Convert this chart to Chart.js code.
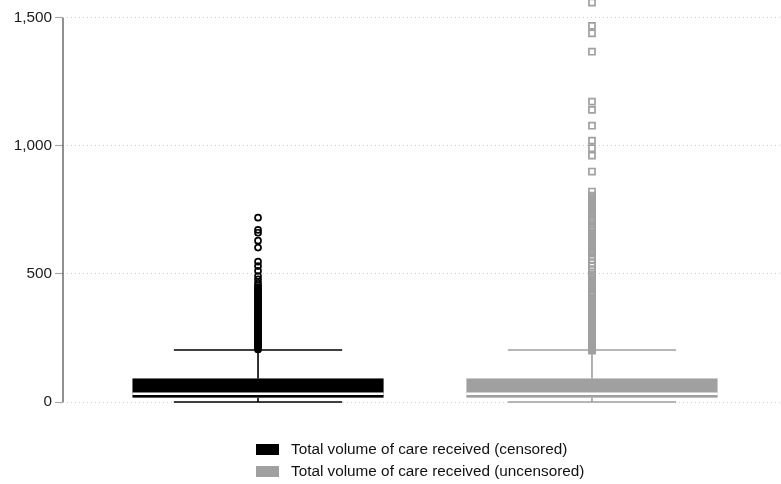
<!DOCTYPE html>
<html>
<head>
<meta charset="utf-8">
<script src="https://cdn.jsdelivr.net/npm/chart.js@4.4.1/dist/chart.umd.min.js"></script>
<style>
    html, body { margin: 0; padding: 0; background: #fff; overflow: hidden; }
    #wrap { position: relative; width: 781px; height: 484px; }
    #boxChart { display: block; }
    #legend { position: absolute; left: 256px; top: 438px; font-family: 'Liberation Sans', Arial, sans-serif; font-size: 15.3px; color: #111; }
    .row { display: flex; align-items: center; height: 22px; }
    .swatch { width: 23px; height: 11px; margin-right: 12px; }
</style>
</head>
<body>
<div id="wrap">
    <canvas id="boxChart"></canvas>
    <div id="legend"></div>
</div>
<script>
// Series names and colours
const categories = ['Total volume of care received (censored)', 'Total volume of care received (uncensored)'];
const colors = ['#000000', '#a0a0a0'];

// Box statistics, one value per series
const lowerWhisker = [0, 0];
const quartile1 = [17, 17];
const medians = [32, 32];
const quartile3 = [92, 92];
const upperWhisker = [203, 203];

// Outside values
const outliersCensored = [
    205, 208, 213, 216, 221, 225, 230, 233, 238, 243, 247, 252, 255, 260, 266, 270, 274, 279,
    285, 289, 293, 298, 304, 308, 312, 318, 323, 327, 331, 337, 342, 347, 352, 356, 362, 368,
    372, 377, 383, 388, 392, 398, 404, 409, 414, 419, 425, 431, 436, 442, 449, 456, 465, 479,
    492, 512, 531, 548, 603, 630, 661, 672, 720
];
const outliersUncensored = [
    201, 204, 209, 215, 219, 224, 230, 234, 239, 245, 249, 254, 260, 264, 268, 275, 279, 284,
    290, 294, 299, 305, 309, 313, 319, 324, 330, 334, 338, 344, 349, 355, 359, 364, 370, 374,
    379, 385, 389, 394, 400, 404, 409, 415, 419, 431, 442, 447, 453, 458, 462, 468, 474, 480,
    485, 492, 498, 516, 530, 543, 556, 570, 584, 589, 596, 602, 607, 614, 620, 625, 632, 638,
    643, 650, 656, 661, 668, 674, 680, 695, 708, 713, 720, 727, 732, 737, 744, 750, 755, 762,
    768, 773, 780, 786, 792, 799, 806, 822, 900, 962, 991, 1021, 1079, 1141, 1173, 1368,
    1440, 1469, 1560
];

// y axis ticks
const yTicks = [0, 500, 1000, 1500];

const boxHalfWidth = 0.376;
const capHalfWidth = 0.252;

// Draws the y axis line, boxes, medians and whiskers on the chart's own scales
const boxPlotPlugin = {
    id: 'boxPlot',
    beforeDatasetsDraw(chart) {
        const { ctx, scales: { x, y } } = chart;
        ctx.save();

        // axis line only spans the labelled range
        ctx.strokeStyle = '#555555';
        ctx.lineWidth = 1.3;
        ctx.beginPath();
        ctx.moveTo(chart.chartArea.left, y.getPixelForValue(yTicks[0]));
        ctx.lineTo(chart.chartArea.left, y.getPixelForValue(yTicks[yTicks.length - 1]));
        ctx.stroke();

        categories.forEach((cat, i) => {
            const cx = x.getPixelForValue(i);
            const bl = x.getPixelForValue(i - boxHalfWidth);
            const br = x.getPixelForValue(i + boxHalfWidth);
            const cl = x.getPixelForValue(i - capHalfWidth);
            const cr = x.getPixelForValue(i + capHalfWidth);
            const yq1 = y.getPixelForValue(quartile1[i]);
            const yq3 = y.getPixelForValue(quartile3[i]);
            const ymed = y.getPixelForValue(medians[i]);
            const ylo = y.getPixelForValue(lowerWhisker[i]);
            const yhi = y.getPixelForValue(upperWhisker[i]);

            ctx.strokeStyle = colors[i];
            ctx.lineWidth = 1.6;
            ctx.beginPath();
            // whisker stems
            ctx.moveTo(cx, yq3); ctx.lineTo(cx, yhi);
            ctx.moveTo(cx, yq1); ctx.lineTo(cx, ylo);
            // caps
            ctx.moveTo(cl, yhi); ctx.lineTo(cr, yhi);
            ctx.moveTo(cl, ylo); ctx.lineTo(cr, ylo);
            ctx.stroke();

            // box
            ctx.fillStyle = colors[i];
            ctx.fillRect(bl, yq3, br - bl, yq1 - yq3);

            // median
            ctx.strokeStyle = '#ffffff';
            ctx.lineWidth = 2.6;
            ctx.beginPath();
            ctx.moveTo(bl, ymed); ctx.lineTo(br, ymed);
            ctx.stroke();
        });
        ctx.restore();
    }
};

const ctx = document.getElementById('boxChart').getContext('2d');
const boxChart = new Chart(ctx, {
    type: 'scatter',
    data: {
        datasets: [
            {
                label: categories[0],
                data: outliersCensored.map(v => ({ x: 0, y: v })),
                pointStyle: 'circle',
                pointRadius: 3,
                borderWidth: 1.7,
                borderColor: colors[0],
                backgroundColor: 'rgba(0,0,0,0)',
                clip: false
            },
            {
                label: categories[1],
                data: outliersUncensored.map(v => ({ x: 1, y: v })),
                pointStyle: 'rect',
                pointRadius: 4.3,
                borderWidth: 1.7,
                borderColor: colors[1],
                backgroundColor: 'rgba(0,0,0,0)',
                clip: false
            }
        ]
    },
    options: {
        responsive: true,
        maintainAspectRatio: false,
        animation: false,
        events: [],
        layout: {
            autoPadding: false,
            padding: { top: 0, bottom: 82, left: 0, right: 0 }
        },
        scales: {
            x: {
                type: 'linear',
                display: false,
                min: -0.584,
                max: 1.566
            },
            y: {
                min: 0,
                max: 1570,
                afterFit: scale => {
                    scale.width = 63;
                    scale.paddingTop = 0;
                    scale.paddingBottom = 0;
                },
                afterBuildTicks: scale => { scale.ticks = yTicks.map(v => ({ value: v })); },
                ticks: {
                    padding: 3,
                    color: '#1a1a1a',
                    font: { family: 'Liberation Sans', size: 15.3 },
                    callback: v => v.toLocaleString('en-US')
                },
                grid: {
                    color: '#cfcfcf',
                    lineWidth: 1,
                    tickLength: 8,
                    tickColor: '#a8a8a8',
                    tickWidth: 1.2
                },
                border: {
                    display: false,
                    dash: [1, 3]
                }
            }
        },
        plugins: {
            legend: { display: false },
            tooltip: { enabled: false }
        }
    },
    plugins: [boxPlotPlugin]
});

// Legend stacked under the plot, built from the chart's datasets
const legendEl = document.getElementById('legend');
boxChart.data.datasets.forEach((ds, i) => {
    const row = document.createElement('div');
    row.className = 'row';
    const sw = document.createElement('span');
    sw.className = 'swatch';
    sw.style.background = colors[i];
    const txt = document.createElement('span');
    txt.textContent = ds.label;
    row.appendChild(sw);
    row.appendChild(txt);
    legendEl.appendChild(row);
});
</script>
</body>
</html>
